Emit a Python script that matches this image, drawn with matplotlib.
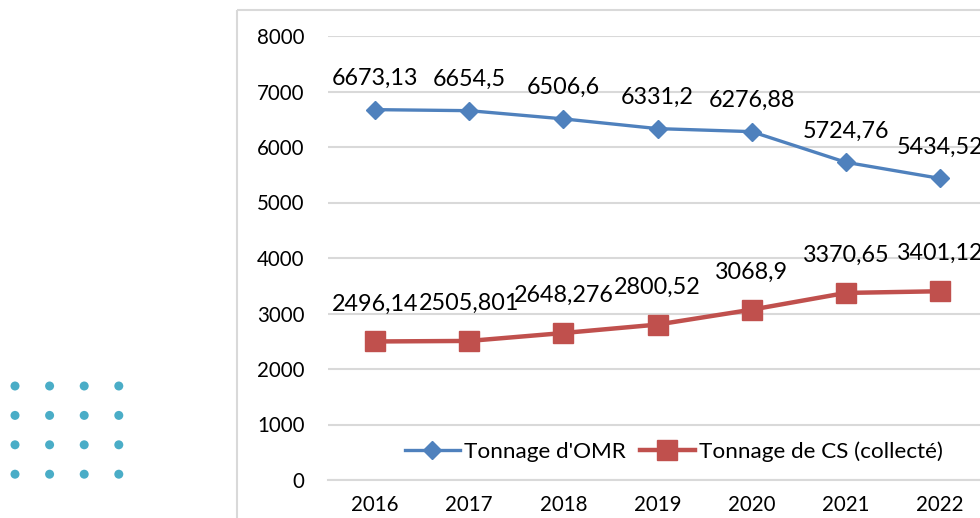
import numpy as np
import matplotlib
matplotlib.use("Agg")
import matplotlib.pyplot as plt
from matplotlib.patches import Rectangle

years = ["2016", "2017", "2018", "2019", "2020", "2021", "2022"]
omr = [6673.13, 6654.5, 6506.6, 6331.2, 6276.88, 5724.76, 5434.52]
cs = [2496.14, 2505.801, 2648.276, 2800.52, 3068.9, 3370.65, 3401.12]
series_names = ["Tonnage d'OMR", "Tonnage de CS (collecté)"]
yticks = [0, 1000, 2000, 3000, 4000, 5000, 6000, 7000, 8000]

plt.rcParams['font.family'] = ['Lato', 'DejaVu Sans']

W, H = 980, 518
fig = plt.figure(figsize=(W / 100, H / 100), dpi=100)

# background overlay for decoration (chart frame + dot grid)
bg = fig.add_axes([0, 0, 1, 1], zorder=0)
bg.set_xlim(0, W)
bg.set_ylim(H, 0)
bg.axis('off')
bg.add_patch(Rectangle((237, 10), 800, 600, fill=False, edgecolor='#d9d9d9', lw=1.5))
gx, gy = np.meshgrid(15 + 34.6 * np.arange(4), 386 + 29.4 * np.arange(4))
bg.scatter(gx.ravel(), gy.ravel(), s=42, color='#4aadc7', edgecolors='none')

left = 328 / W
right = 987 / W
bottom = (H - 480) / H
top = (H - 36) / H
ax = fig.add_axes([left, bottom, right - left, top - bottom], zorder=1)
ax.set_facecolor('none')

x = np.arange(len(years))
ax.plot(x, omr, color='#4f81bd', lw=2.4, marker='D', ms=9.5, label=series_names[0], zorder=3)
ax.plot(x, cs, color='#c0504d', lw=3.2, marker='s', ms=14, label=series_names[1], zorder=3)

for xi, v in zip(x, omr):
    ax.annotate(str(v).replace('.', ','), (xi, v), xytext=(0, 15), textcoords='offset points',
                ha='center', va='bottom', fontsize=16.8, color='black', zorder=4)
for xi, v in zip(x, cs):
    ax.annotate(str(v).replace('.', ','), (xi, v), xytext=(0, 19.5), textcoords='offset points',
                ha='center', va='bottom', fontsize=16.8, color='black', zorder=4)

ax.set_xlim(-0.5, len(years) - 0.5)
ax.set_ylim(0, 8000)
ax.set_xticks(x)
ax.set_xticklabels(years)
ax.set_yticks(yticks)
ax.set_yticklabels([str(t) for t in yticks])
ax.grid(axis='y', color='#d9d9d9', lw=1.5)
ax.set_axisbelow(True)
for s in ['top', 'right', 'left']:
    ax.spines[s].set_visible(False)
ax.spines['bottom'].set_color('#d9d9d9')
ax.spines['bottom'].set_linewidth(1.5)
ax.tick_params(axis='both', length=0, labelsize=14.8, colors='#000000')
ax.tick_params(axis='y', pad=17)
ax.tick_params(axis='x', pad=11)

ax.legend(loc='center', bbox_to_anchor=(0.525, 0.063), ncol=2, frameon=False,
          fontsize=16.2, handlelength=2.45, handletextpad=0.2, columnspacing=0.6)

fig.savefig('out.png', dpi=100)
